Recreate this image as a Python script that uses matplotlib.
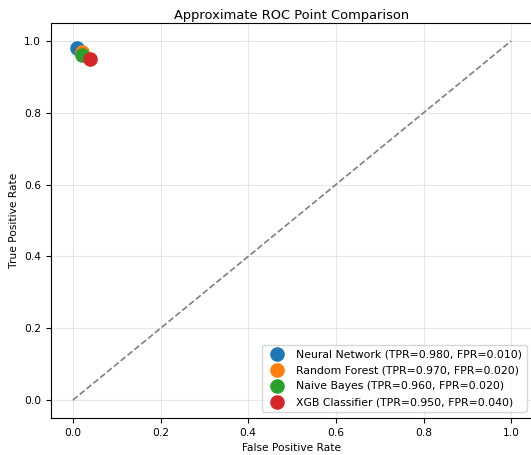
import matplotlib
matplotlib.use("Agg")
import matplotlib.pyplot as plt

models = ["Neural Network", "Random Forest", "Naive Bayes", "XGB Classifier"]
tpr = [0.980, 0.970, 0.960, 0.950]
fpr = [0.010, 0.020, 0.020, 0.040]
colors = ["#1f77b4", "#ff7f0e", "#2ca02c", "#d62728"]

fig = plt.figure(figsize=(5.31, 4.55), dpi=100)
ax = fig.add_axes([0.096, 0.0813, 0.908, 0.8682])
for m, t, f, c in zip(models, tpr, fpr, colors):
    ax.scatter(f, t, s=90, color=c, label=f"{m} (TPR={t:.3f}, FPR={f:.3f})", zorder=3)
ax.plot([0, 1], [0, 1], linestyle="--", color="gray", lw=1.2, zorder=2)
ax.set_xlim(-0.05, 1.05)
ax.set_ylim(-0.05, 1.05)
ax.set_xlabel("False Positive Rate", fontsize=7.7)
ax.set_ylabel("True Positive Rate", fontsize=7.7)
ax.set_title("Approximate ROC Point Comparison", fontsize=9.4, pad=3)
ax.tick_params(labelsize=7.7)
ax.grid(True, alpha=0.3)
ax.legend(loc="lower right", fontsize=7.8, borderaxespad=0.6, labelspacing=0.55)
fig.savefig("out.png", dpi=100)
